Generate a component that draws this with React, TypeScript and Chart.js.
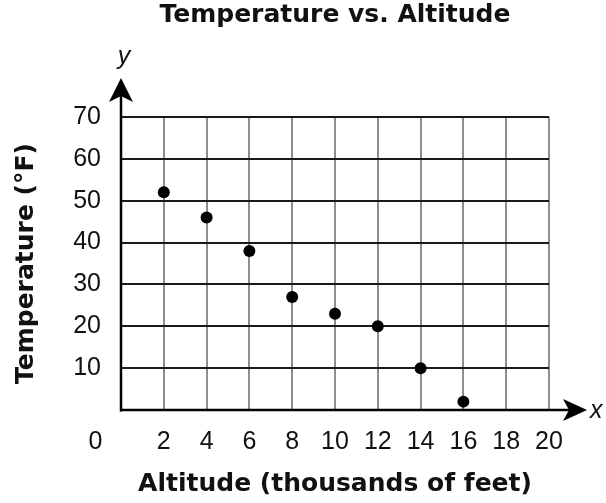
import React, { useEffect, useRef } from 'react';
import { Chart, registerables } from 'chart.js';

Chart.register(...registerables);

// ---- data ----
const altitudes = [2, 4, 6, 8, 10, 12, 14, 16];
const temperatures = [52, 46, 38, 27, 23, 20, 10, 2];
const xMin = 0;
const xMax = 20;
const xStep = 2;
const yMin = 0;
const yMax = 70;
const yStep = 10;
const chartTitle = 'Temperature vs. Altitude';
const xAxisTitle = 'Altitude (thousands of feet)';
const yAxisTitle = 'Temperature (°F)';
const axisLetters = ['x', 'y'];
const originLabel = '0';

const FONT = '"Liberation Sans", Arial, Helvetica, sans-serif';
const BOLD_FONT = '"DejaVu Sans", "Liberation Sans", Arial, sans-serif';

const axesPlugin = {
  id: 'axesArrows',
  afterDraw(chart: any) {
    const { ctx } = chart;
    const xs = chart.scales.x;
    const ys = chart.scales.y;
    const ox = xs.getPixelForValue(0);
    const oy = ys.getPixelForValue(0);
    const topTip = ys.getPixelForValue(yMax) - 39;
    const rightTip = xs.getPixelForValue(xMax) + 38;
    ctx.save();
    ctx.strokeStyle = '#000';
    ctx.fillStyle = '#000';
    ctx.lineWidth = 2.5;
    ctx.beginPath();
    ctx.moveTo(ox, oy + 1.5);
    ctx.lineTo(ox, topTip + 12);
    ctx.stroke();
    ctx.beginPath();
    ctx.moveTo(ox - 1, oy);
    ctx.lineTo(rightTip - 12, oy);
    ctx.stroke();
    // arrow heads
    ctx.beginPath();
    ctx.moveTo(ox, topTip);
    ctx.lineTo(ox + 12, topTip + 24);
    ctx.lineTo(ox, topTip + 18);
    ctx.lineTo(ox - 12, topTip + 24);
    ctx.closePath();
    ctx.fill();
    ctx.beginPath();
    ctx.moveTo(rightTip, oy);
    ctx.lineTo(rightTip - 24, oy - 11);
    ctx.lineTo(rightTip - 18, oy);
    ctx.lineTo(rightTip - 24, oy + 11);
    ctx.closePath();
    ctx.fill();
    // letters
    ctx.fillStyle = '#111';
    ctx.font = `italic 25px ${FONT}`;
    ctx.textBaseline = 'middle';
    ctx.textAlign = 'center';
    ctx.fillText(axisLetters[1], ox + 3, topTip - 21);
    ctx.textAlign = 'left';
    ctx.fillText(axisLetters[0], rightTip + 3, oy + 1);
    ctx.font = `25px ${FONT}`;
    ctx.textAlign = 'center';
    ctx.fillText(originLabel, ox - 25.5, oy + 32);
    ctx.restore();
  },
};

export default function App() {
  const canvasRef = useRef<HTMLCanvasElement | null>(null);

  useEffect(() => {
    if (!canvasRef.current) return;
    const chart = new Chart(canvasRef.current, {
      type: 'scatter',
      data: {
        datasets: [
          {
            label: 'Temperature',
            data: altitudes.map((a, i) => ({ x: a, y: temperatures[i] })),
            backgroundColor: '#000',
            borderColor: '#000',
            borderWidth: 0,
            pointRadius: 6,
          },
        ],
      },
      options: {
        responsive: false,
        animation: false,
        layout: { padding: { left: 0, right: 57, top: 0, bottom: 4 } },
        plugins: {
          legend: { display: false },
          tooltip: { enabled: false },
          title: {
            display: true,
            text: chartTitle,
            fullSize: false,
            color: '#111',
            font: { family: BOLD_FONT, size: 25, weight: 'bold' },
            padding: { top: 0, bottom: 87 },
          },
        },
        scales: {
          x: {
            type: 'linear',
            min: xMin,
            max: xMax,
            afterFit: (s: any) => {
              s.height = 89;
            },
            border: { display: false },
            grid: {
              drawTicks: false,
              lineWidth: 2,
              color: (c: any) => (c.tick && c.tick.value === 0 ? 'rgba(0,0,0,0)' : '#8e8e8e'),
            },
            ticks: {
              stepSize: xStep,
              autoSkip: false,
              maxRotation: 0,
              padding: 17,
              color: '#111',
              font: { family: FONT, size: 25 },
              callback: (v: any) => (v === 0 ? '' : String(v)),
            },
            title: {
              display: true,
              text: xAxisTitle,
              color: '#111',
              font: { family: BOLD_FONT, size: 25, weight: 'bold' },
              padding: { top: 0, bottom: 0 },
            },
          },
          y: {
            type: 'linear',
            min: yMin,
            max: yMax,
            afterFit: (s: any) => {
              s.width = 121;
            },
            border: { display: false },
            grid: {
              drawTicks: false,
              lineWidth: 2,
              color: (c: any) => (c.tick && c.tick.value === 0 ? 'rgba(0,0,0,0)' : '#1a1a1a'),
            },
            ticks: {
              stepSize: yStep,
              padding: 20,
              color: '#111',
              font: { family: FONT, size: 25 },
              callback: (v: any) => (v === 0 ? '' : String(v)),
            },
            title: {
              display: true,
              text: yAxisTitle,
              color: '#111',
              font: { family: BOLD_FONT, size: 25, weight: 'bold' },
              padding: { top: 11, bottom: 0 },
            },
          },
        },
      },
      plugins: [axesPlugin],
    });
    return () => chart.destroy();
  }, []);

  return (
    <div style={{ position: 'fixed', left: 0, top: 0, width: 606, height: 503, background: '#fff' }}>
      <canvas ref={canvasRef} width={606} height={503} />
    </div>
  );
}
